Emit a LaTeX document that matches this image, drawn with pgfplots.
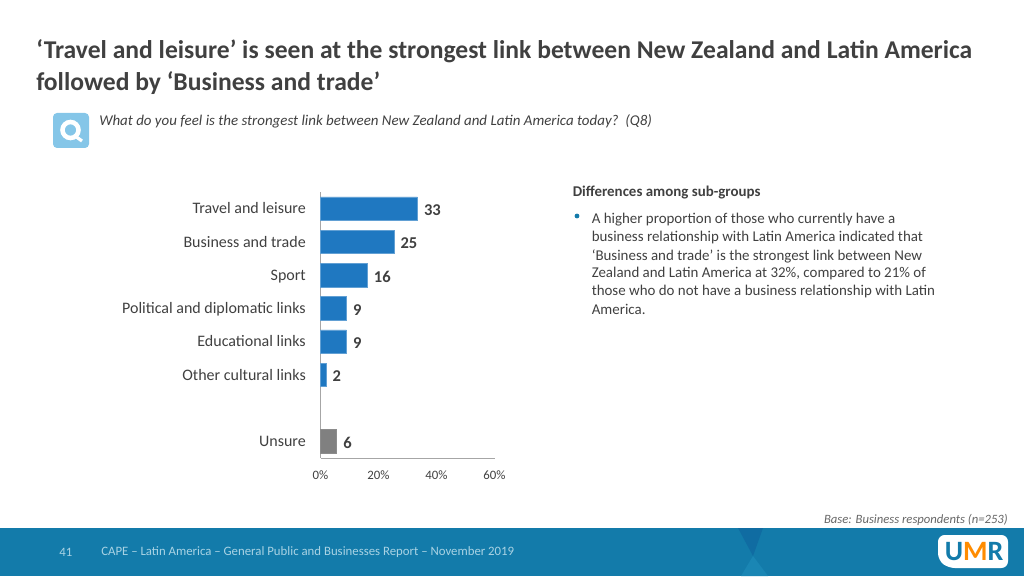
\documentclass[border=0pt]{standalone}
\usepackage{pgfplots}
\pgfplotsset{compat=1.18}
\usepackage{fontspec}
\setmainfont{Carlito}
\definecolor{txt}{HTML}{404040}
\definecolor{barblue}{HTML}{1F78C1}
\definecolor{foot}{HTML}{137BAA}
\definecolor{footdark}{HTML}{106CA2}
\definecolor{footlight}{HTML}{1A86B4}
\definecolor{foottxt}{HTML}{A9D3E4}
\definecolor{iconblue}{HTML}{85C6E8}
\begin{document}
\begin{tikzpicture}
\path[use as bounding box] (0,0) rectangle (768pt,432pt);
\begin{scope}[x=0.75pt,y=-0.75pt,shift={(0,432pt)}]
% footer
\fill[foot] (0,528) rectangle (1024,576);
\fill[footdark] (738,528) -- (763,528) -- (753,556) -- cycle;
\fill[footlight] (753,556) -- (741,576) -- (768,576) -- cycle;
\node[anchor=west,text=foottxt,font=\fontsize{9.6pt}{11pt}\selectfont,inner sep=0] at (59,552) {41};
\node[anchor=west,text=foottxt,font=\fontsize{9.6pt}{11pt}\selectfont,inner sep=0] at (101,552) {CAPE – Latin America – General Public and Businesses Report – November 2019};
\fill[white,rounded corners=5pt] (938,535) -- (1008,535) -- (1008,568) -- (948,568) -- (938,560) -- cycle;
\node[anchor=center,text=foot,font=\bfseries\fontsize{21pt}{22pt}\selectfont,inner sep=0] at (974,551.5) {U\textcolor{orange!90!yellow}{M}R};
% titles
\node[anchor=west,text=txt,font=\bfseries\fontsize{19.2pt}{22pt}\selectfont,inner sep=0] at (36,51.5) {‘Travel and leisure’ is seen at the strongest link between New Zealand and Latin America};
\node[anchor=west,text=txt,font=\bfseries\fontsize{19.2pt}{22pt}\selectfont,inner sep=0] at (36,83) {followed by ‘Business and trade’};
% Q icon
\fill[iconblue,rounded corners=3pt] (53,113) rectangle (89,148);
\draw[white,line width=3.4pt] (70.5,130) circle (8);
\draw[white,line width=2.4pt] (75,136) -- (82,141);
\node[anchor=west,text=txt,font=\itshape\fontsize{11.2pt}{13pt}\selectfont,inner sep=0] at (99,121.5) {What do you feel is the strongest link between New Zealand and Latin America today?\ \ (Q8)};
% right text
\node[anchor=west,text=txt,font=\bfseries\fontsize{11.2pt}{13pt}\selectfont,inner sep=0] at (572.5,192.5) {Differences among sub-groups};
\fill[foot] (577,216) circle (2.4);
\node[anchor=west,text=txt,font=\fontsize{11.2pt}{13pt}\selectfont,inner sep=0] at (591.5,220) {A higher proportion of those who currently have a};
\node[anchor=west,text=txt,font=\fontsize{11.2pt}{13pt}\selectfont,inner sep=0] at (591.5,238) {business relationship with Latin America indicated that};
\node[anchor=west,text=txt,font=\fontsize{11.2pt}{13pt}\selectfont,inner sep=0] at (591.5,256) {‘Business and trade’ is the strongest link between New};
\node[anchor=west,text=txt,font=\fontsize{11.2pt}{13pt}\selectfont,inner sep=0] at (591.5,273.5) {Zealand and Latin America at 32\%, compared to 21\% of};
\node[anchor=west,text=txt,font=\fontsize{11.2pt}{13pt}\selectfont,inner sep=0] at (591.5,291.5) {those who do not have a business relationship with Latin};
\node[anchor=west,text=txt,font=\fontsize{11.2pt}{13pt}\selectfont,inner sep=0] at (591.5,309.5) {America.};
\node[anchor=east,text=txt!80!white,font=\itshape\fontsize{9.5pt}{11pt}\selectfont,inner sep=0] at (1008,520) {Base: Business respondents (n=253)};
\end{scope}
\begin{axis}[
 at={(240.375pt,88.5pt)},anchor=south west,scale only axis,
 width=130.5pt,height=199.5pt,
 xmin=0,xmax=60,ymin=-0.5,ymax=7.5,y dir=reverse,
 axis lines=left,axis line style={draw=black!35,-},
 xbar,bar width=17.6pt,bar shift=0pt,
 xtick={0,20,40,60},xticklabels={0\%,20\%,40\%,60\%},
 ytick={0,1,2,3,4,5,7},
 yticklabels={Travel and leisure,Business and trade,Sport,Political and diplomatic links,Educational links,Other cultural links,Unsure},
 major tick length=0pt,
 tick label style={text=txt},
 x tick label style={font=\fontsize{9.6pt}{11pt}\selectfont,yshift=-6pt},
 y tick label style={font=\fontsize{12pt}{14pt}\selectfont,xshift=-7.5pt,yshift=-1pt,text height=8.5pt,text depth=2.5pt},
 /pgf/number format/assume math mode=true,
 nodes near coords,
 point meta=x,
 nodes near coords style={font=\bfseries\fontsize{12.4pt}{14pt}\selectfont,text=txt,anchor=west,xshift=1.5pt,yshift=-1pt,/pgf/number format/fixed,/pgf/number format/precision=0},
 clip=false,
]
\addplot[draw=barblue!70!white,fill=barblue] coordinates {(33.4,0) (25.3,1) (16.1,2) (8.9,3) (8.9,4) (1.9,5)};
\addplot[draw=black!45,fill=black!50] coordinates {(5.6,7)};
\end{axis}
\end{tikzpicture}
\end{document}
